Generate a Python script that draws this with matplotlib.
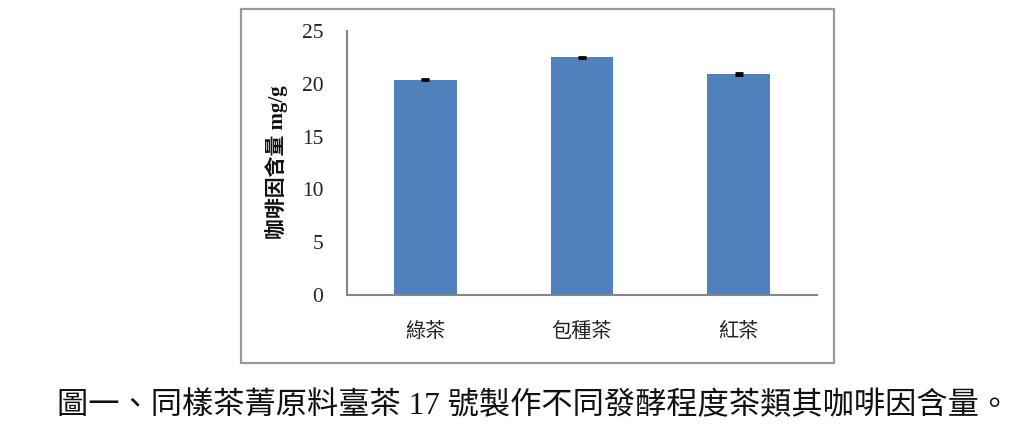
import matplotlib
matplotlib.use("Agg")
import matplotlib.pyplot as plt
from matplotlib.patches import Rectangle

categories = ["綠茶", "包種茶", "紅茶"]
values = [20.4, 22.5, 20.95]
errors = [0.08, 0.06, 0.08]
yticks = [0, 5, 10, 15, 20, 25]
ylabel = "咖啡因含量 mg/g"
caption = "圖一、同樣茶菁原料臺茶 17 號製作不同發酵程度茶類其咖啡因含量。"

FAM = ["Liberation Serif", "Noto Sans CJK TC", "DejaVu Sans"]
plt.rcParams["font.family"] = FAM

W, H = 1024, 429
fig = plt.figure(figsize=(W / 100, H / 100), dpi=100)

# outer frame
fig.patches.append(Rectangle((241 / W, 1 - 363 / H), 593 / W, 354 / H,
                             transform=fig.transFigure, fill=False,
                             edgecolor="#9a9a9a", linewidth=1.6))

ax = fig.add_axes([347 / W, 1 - 295 / H, 470 / W, 264 / H])
x = range(len(categories))
ax.bar(x, values, width=0.4, color="#4F81BD", zorder=2)
ax.errorbar(x, values, yerr=errors, fmt="none", ecolor="black",
            elinewidth=1.2, capsize=3, capthick=2, zorder=3)

ax.set_xlim(-0.5, len(categories) - 0.5)
ax.set_ylim(0, 25)
ax.set_yticks(yticks)
ax.set_yticklabels([str(t) for t in yticks], fontsize=15.5, family=FAM)
ax.set_xticks(list(x))
ax.set_xticklabels(categories, fontsize=14.5, family=FAM)
ax.tick_params(axis="both", length=0, colors="#222222")
ax.tick_params(axis="y", pad=17)
ax.tick_params(axis="x", pad=20)
for s in ["top", "right"]:
    ax.spines[s].set_visible(False)
for s in ["left", "bottom"]:
    ax.spines[s].set_color("#868686")
    ax.spines[s].set_linewidth(1.5)

fig.text(277 / W, 1 - 162 / H, ylabel, rotation=90, ha="center", va="center",
         fontsize=15, fontweight="bold", family=FAM, color="#111111")

fig.text(534 / W, 1 - 406 / H, caption, ha="center", va="center",
         fontsize=22.5, family=FAM, color="#111111")

fig.savefig("out.png", dpi=100, facecolor="white")
